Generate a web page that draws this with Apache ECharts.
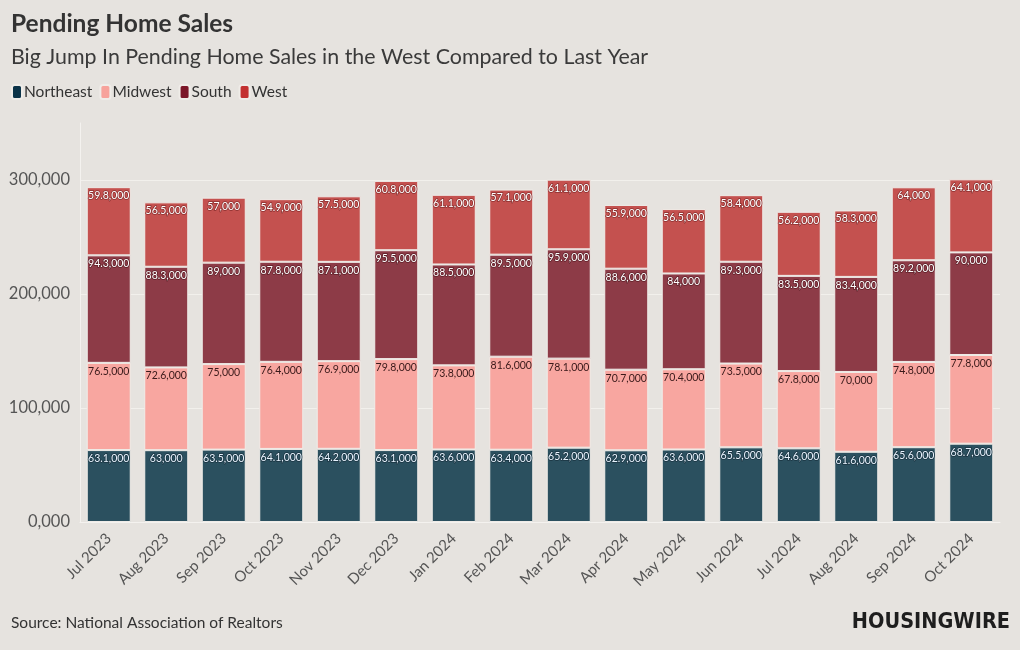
<!DOCTYPE html>
<html><head><meta charset="utf-8">
<script src="https://cdn.jsdelivr.net/npm/echarts@6/dist/echarts.min.js"></script>
<style>html,body{margin:0;padding:0;background:#e6e3df;}#c{width:1020px;height:650px;}</style>
</head><body><div id="c"></div>
<script>
const categories = ['Jul 2023','Aug 2023','Sep 2023','Oct 2023','Nov 2023','Dec 2023','Jan 2024','Feb 2024','Mar 2024','Apr 2024','May 2024','Jun 2024','Jul 2024','Aug 2024','Sep 2024','Oct 2024'];
const northeast = [63.1,63.0,63.5,64.1,64.2,63.1,63.6,63.4,65.2,62.9,63.6,65.5,64.6,61.6,65.6,68.7];
const midwest   = [76.5,72.6,75.0,76.4,76.9,79.8,73.8,81.6,78.1,70.7,70.4,73.5,67.8,70.0,74.8,77.8];
const south     = [94.3,88.3,89.0,87.8,87.1,95.5,88.5,89.5,95.9,88.6,84.0,89.3,83.5,83.4,89.2,90.0];
const west      = [59.8,56.5,57.0,54.9,57.5,60.8,61.1,57.1,61.1,55.9,56.5,58.4,56.2,58.3,64.0,64.1];
const yTicks = [0,100,200,300];

const fmt = v => (Math.round(v*10)/10) + ',000';
const font = 'Lato, "Open Sans", sans-serif';

function mkSeries(name, data, color, labelColor, textBorder){
  return {
    name, type:'bar', stack:'total', data, barWidth:44,
    itemStyle:{color, borderColor:'#efece8', borderWidth:1},
    label:{show:true, position:'insideTop', distance:3, fontSize:10.5, fontFamily:font,
      color:labelColor, textBorderColor:textBorder, textBorderWidth:textBorder?1.5:0,
      formatter:p=>fmt(p.value)},
    emphasis:{disabled:true}
  };
}

const chart = echarts.init(document.getElementById('c'), null, {renderer:'canvas'});
chart.setOption({
  backgroundColor:'#e6e3df',
  animation:false,
  title:[
    {text:'Pending Home Sales', left:11, top:12, padding:0, textStyle:{fontFamily:font, fontSize:24.5, fontWeight:'bold', color:'#333'}},
    {text:'Big Jump In Pending Home Sales in the West Compared to Last Year', left:11, top:47, padding:0, textStyle:{fontFamily:font, fontSize:21.4, fontWeight:'normal', color:'#3a3a3a'}},
    {text:'Source: National Association of Realtors', left:11, top:615, padding:0, textStyle:{fontFamily:font, fontSize:15.5, fontWeight:'normal', color:'#333'}}
  ],
  graphic:[{type:'text', right:10, top:611,
    style:{text:'HOUSINGWIRE', fontFamily:'"Liberation Sans Narrow", "DejaVu Sans Condensed", sans-serif', fontSize:21.5, fontWeight:'bold', fill:'#1e1e1e'}}],
  legend:{left:11, top:84, padding:0, itemWidth:10, itemHeight:14, itemGap:7, icon:'roundRect',
    textStyle:{fontFamily:font, fontSize:15.5, color:'#333', padding:[0,0,0,-3]},
    data:[
      {name:'Northeast', itemStyle:{color:'#0b3348'}},
      {name:'Midwest', itemStyle:{color:'#f7a29b'}},
      {name:'South', itemStyle:{color:'#7c1628'}},
      {name:'West', itemStyle:{color:'#c33131'}}
    ]},
  grid:{left:80, right:20, top:123, bottom:128},
  xAxis:{type:'category', data:categories,
    axisLine:{show:true, lineStyle:{color:'#f4f2ef'}}, axisTick:{show:false},
    axisLabel:{rotate:45, fontFamily:font, fontSize:15, color:'#555', margin:14}},
  yAxis:{type:'value', min:0, max:350, interval:100,
    axisLine:{show:true, lineStyle:{color:'#f4f2ef'}},
    axisTick:{show:false},
    axisLabel:{fontFamily:font, fontSize:16.5, color:'#555', margin:10, showMaxLabel:false,
      formatter:v=> yTicks.includes(v) ? v+',000' : ''},
    splitLine:{show:true, showMaxLine:false, lineStyle:{color:'#f2f0ec', width:1}}},
  series:[
    mkSeries('Northeast', northeast, '#2b505f', '#e8f4ff', '#1a3340'),
    mkSeries('Midwest', midwest, '#f8a6a0', '#3a1a1a', null),
    mkSeries('South', south, '#8d3b47', '#fff', '#5e2029'),
    mkSeries('West', west, '#c4514f', '#fff', '#8a3030')
  ]
});
</script></body></html>
